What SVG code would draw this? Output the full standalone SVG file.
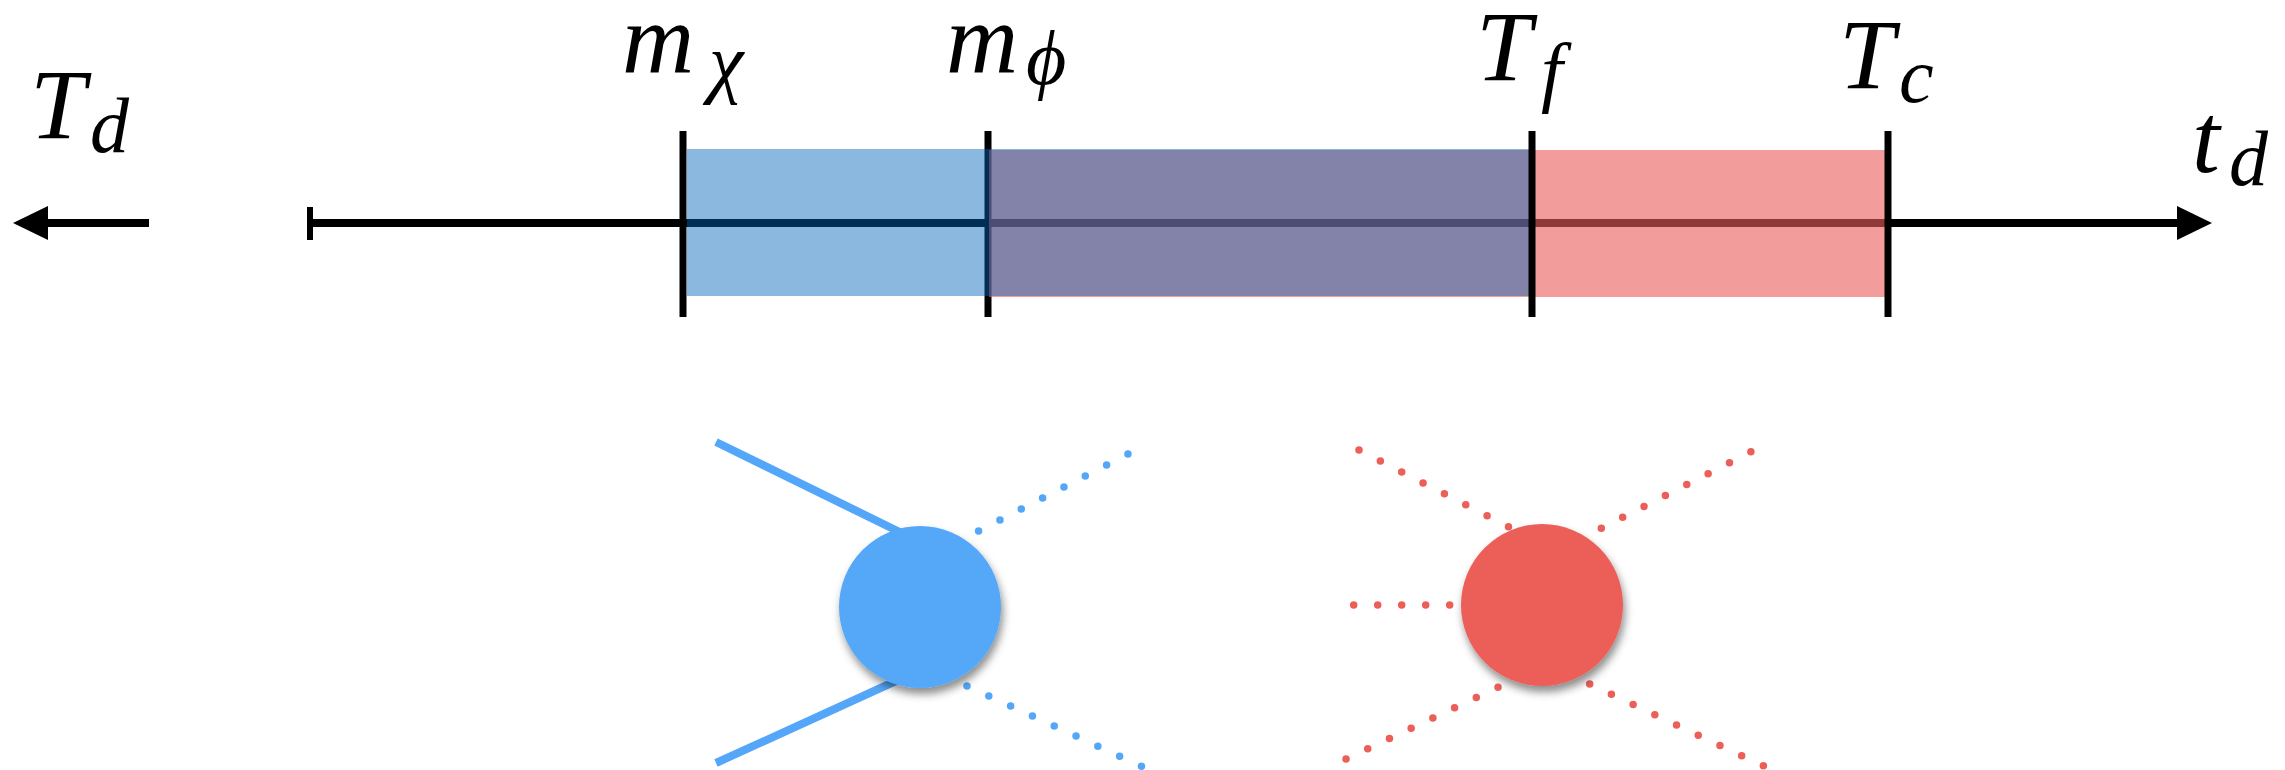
<svg xmlns="http://www.w3.org/2000/svg" width="2285" height="770" viewBox="0 0 2285 770">
<style>
.math{font-family:"Liberation Serif","DejaVu Serif",serif;font-style:italic;fill:#000}
.big{font-size:100px}
.sub{font-size:78px}
.axis{stroke:#000;stroke-width:8;fill:none}
.tick{stroke:#000;stroke-width:7}
.bdot{stroke:#54A7F8;stroke-width:7.5;stroke-linecap:round;fill:none}
.rdot{stroke:#EC5E58;stroke-width:7.5;stroke-linecap:round;fill:none}
.bsolid{stroke:#54A7F8;stroke-width:8;fill:none}
</style>
<defs>
<filter id="sh" x="-30%" y="-30%" width="160%" height="170%">
<feDropShadow dx="2" dy="6" stdDeviation="4" flood-color="#000" flood-opacity="0.45"/>
</filter>
</defs>
<rect width="2285" height="770" fill="#fff"/>

<g id="connectors">
<line class="axis" x1="149" y1="223" x2="40" y2="223"/>
<polygon points="13,223 48,206 48,240" fill="#000"/>
<line class="axis" x1="310" y1="223" x2="2180" y2="223"/>
<polygon points="2212,223 2177,206 2177,240" fill="#000"/>
<line x1="310" y1="207" x2="310" y2="240" stroke="#000" stroke-width="6"/>
<line class="tick" x1="988" y1="131" x2="988" y2="317"/>
</g>

<g id="bands">
<rect x="989" y="150" width="897" height="147" fill="rgb(233,95,92)" fill-opacity="0.61"/>
<rect x="687" y="149" width="843" height="147" fill="rgb(0,100,185)" fill-opacity="0.46"/>
</g>

<g id="ticks">
<line class="tick" x1="683" y1="131" x2="683" y2="317"/>
<line class="tick" x1="1532" y1="131" x2="1532" y2="317"/>
<line class="tick" x1="1888" y1="131" x2="1888" y2="317"/>
</g>

<g id="labels">
<text class="math big" x="30" y="138">T</text><text class="math sub" x="90" y="152">d</text>
<text class="math big" x="622" y="72">m</text><text class="math sub" x="709" y="88">χ</text>
<text class="math big" x="946" y="72">m</text><text class="math sub" x="1026" y="84" font-family="DejaVu Serif" font-size="72">ϕ</text>
<text class="math big" x="1476" y="80">T</text><text class="math sub" x="1541" y="97">f</text>
<text class="math big" x="1839" y="88">T</text><text class="math sub" x="1899" y="102">c</text>
<text class="math big" x="2192" y="172">t</text><text class="math sub" x="2229" y="185">d</text>
</g>

<g id="blue-vertex">
<line class="bsolid" x1="716" y1="442" x2="920" y2="542"/>
<line class="bsolid" x1="716" y1="763" x2="920" y2="670"/>
<line class="bdot" stroke-dasharray="0 24" x1="978.6" y1="531" x2="1129" y2="453.5"/>
<line class="bdot" stroke-dasharray="0 24" x1="967" y1="686" x2="1165" y2="777"/>
<circle cx="920" cy="607" r="81" fill="#54A7F8" filter="url(#sh)"/>
</g>

<g id="red-vertex">
<line class="rdot" stroke-dasharray="0 24" x1="1359" y1="450" x2="1509" y2="527"/>
<line class="rdot" stroke-dasharray="0 24" x1="1601.3" y1="528.3" x2="1752" y2="451.2"/>
<line class="rdot" stroke-dasharray="0 24" x1="1353.7" y1="605" x2="1450.5" y2="605"/>
<line class="rdot" stroke-dasharray="0 24" x1="1498" y1="687.3" x2="1345" y2="759.4"/>
<line class="rdot" stroke-dasharray="0 24" x1="1589.7" y1="684" x2="1787" y2="777"/>
<circle cx="1542" cy="605" r="81" fill="#EC5E58" filter="url(#sh)"/>
</g>
</svg>
